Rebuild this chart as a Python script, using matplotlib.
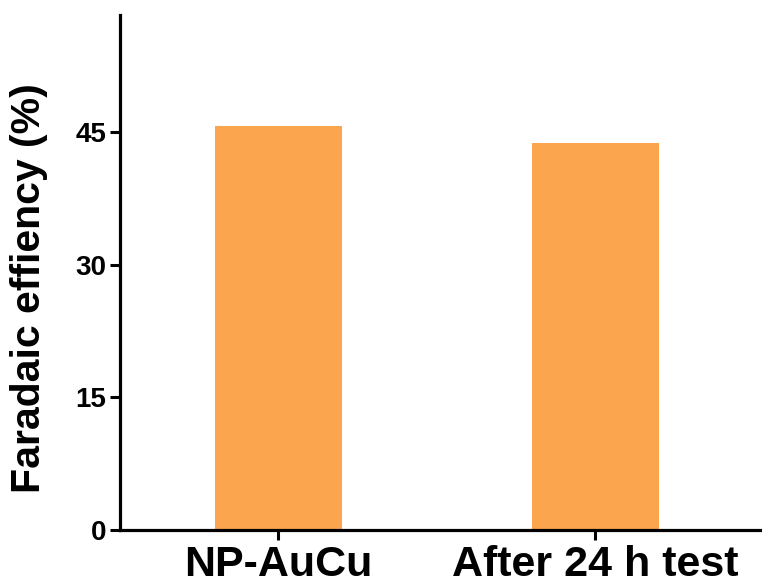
import matplotlib
matplotlib.use("Agg")
import matplotlib.pyplot as plt
from matplotlib.transforms import ScaledTranslation

samples = ["NP-AuCu", "After 24 h test"]
faradaic_eff = [45.7, 43.8]
y_ticks = [0, 15, 30, 45]

plt.rcParams["font.family"] = ["Liberation Sans", "DejaVu Sans"]
plt.rcParams["font.weight"] = "bold"

fig = plt.figure(figsize=(7.62, 5.87), dpi=100)
ax = fig.add_axes([0.1575, 0.097, 0.84, 0.877])

x = range(len(samples))
ax.bar(x, faradaic_eff, width=0.4, color="#FCA54F")

ax.set_xlim(-0.5, 1.52)
ax.set_ylim(0, 58.2)
ax.set_xticks(list(x))
ax.set_xticklabels(samples, fontsize=31, fontweight="bold")
ax.set_yticks(y_ticks)
ax.set_yticklabels([str(t) for t in y_ticks], fontsize=20, fontweight="bold")
ax.set_ylabel("Faradaic effiency (%)", fontsize=29.5, fontweight="bold")
ax.yaxis.set_label_coords(-0.112, 0.47)

# second label sits a little right of its tick in the original
lbl = ax.get_xticklabels()[1]
lbl.set_transform(lbl.get_transform() + ScaledTranslation(0.1, 0, fig.dpi_scale_trans))

for side in ("top", "right"):
    ax.spines[side].set_visible(False)
for side in ("left", "bottom"):
    ax.spines[side].set_linewidth(2.3)
ax.tick_params(axis="both", width=2.2, length=7, direction="out")
ax.tick_params(axis="x", pad=4)
ax.tick_params(axis="y", pad=3)

fig.savefig("out.png", dpi=100)
